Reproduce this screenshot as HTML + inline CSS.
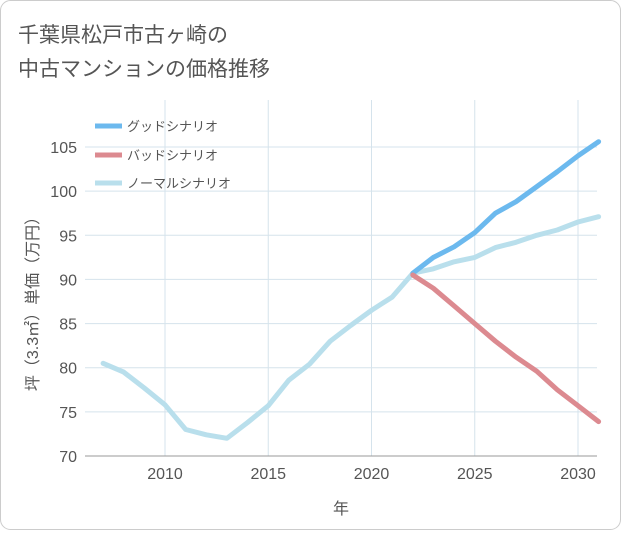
<!DOCTYPE html>
<html><head><meta charset="utf-8"><style>
body{margin:0;background:#fff;}
#wrap{position:relative;width:621px;height:530px;font-family:"Liberation Sans","Noto Sans CJK JP",sans-serif;}
</style></head><body>
<div id="wrap">
<svg id="svg" width="621" height="530"></svg>
</div>
<script>
const years=[2007,2008,2009,2010,2011,2012,2013,2014,2015,2016,2017,2018,2019,2020,2021,2022,2023,2024,2025,2026,2027,2028,2029,2030,2031];
const normal=[80.5,79.5,77.7,75.8,73,72.4,72,73.8,75.7,78.6,80.4,83,84.8,86.5,88,90.7,91.2,92,92.5,93.6,94.2,95,95.6,96.5,97.1];
const goodYears=[2022,2023,2024,2025,2026,2027,2028,2029,2030,2031];
const good=[90.7,92.5,93.7,95.3,97.5,98.8,100.5,102.2,104,105.6];
const bad=[90.5,89,87,85,83,81.2,79.6,77.5,75.7,73.9];
const yTicks=[70,75,80,85,90,95,100,105];
const xTicks=[2010,2015,2020,2025,2030];
const NS="http://www.w3.org/2000/svg";
const svg=document.getElementById('svg');
const L=85,R=597,T=100,B=456;
const x=v=>165+(v-2010)*20.65;
const y=v=>456-(v-70)*(309/35);
function el(t,a,p){const e=document.createElementNS(NS,t);for(const k in a)e.setAttribute(k,a[k]);(p||svg).appendChild(e);return e;}
const border=el('rect',{x:0.5,y:0.5,width:620,height:529,rx:10,fill:'#fff',stroke:'#ccc'});


const t1=el('text',{x:18,y:42,'font-size':21,fill:'#555'});t1.textContent='千葉県松戸市古ヶ崎の';


const t2=el('text',{x:18,y:76,'font-size':21,fill:'#555'});t2.textContent='中古マンションの価格推移';


yTicks.forEach(v=>{
 const g=el('line',{x1:L,x2:R,y1:y(v),y2:y(v),stroke:'#d5e3ec'});
 
 
 const t=el('text',{x:L-8,y:y(v)+6,'text-anchor':'end','font-size':16,fill:'#555'});t.textContent=v;
 
 
});
xTicks.forEach(v=>{
 const g=el('line',{x1:x(v),x2:x(v),y1:T,y2:B,stroke:'#d5e3ec'});
 
 
 const t=el('text',{x:x(v),y:479,'text-anchor':'middle','font-size':16,fill:'#555'});t.textContent=v;
 
 
});
const ax=el('line',{x1:L,x2:R,y1:B,y2:B,stroke:'#999'});


const xt=el('text',{x:341,y:514,'text-anchor':'middle','font-size':16,fill:'#555'});xt.textContent='年';


const yt=el('text',{transform:'translate(38,300) rotate(-90)','text-anchor':'middle','font-size':16,fill:'#555'});yt.textContent='坪（3.3㎡）単価（万円）';


function line(xs,vs,c,name){
 const d=vs.map((v,i)=>(i?'L':'M')+x(xs[i]).toFixed(1)+','+y(v).toFixed(1)).join('');
 const p=el('path',{d:d,fill:'none',stroke:c,'stroke-width':5,'stroke-linejoin':'round','stroke-linecap':'round'});
 
 
}
line(years,normal,'#b9dfec','normal-scenario-line');
line(goodYears,good,'#6cb9ee','good-scenario-line');
line(goodYears,bad,'#dc8a90','bad-scenario-line');
[['グッドシナリオ','#6cb9ee',126],['バッドシナリオ','#dc8a90',155],['ノーマルシナリオ','#b9dfec',183]].forEach(a=>{
 const l=el('line',{x1:95,x2:122,y1:a[2],y2:a[2],stroke:a[1],'stroke-width':5});
 
 
 const t=el('text',{x:127,y:a[2]+5,'font-size':13,fill:'#555'});t.textContent=a[0];
 
 
});
</script>
</body></html>
